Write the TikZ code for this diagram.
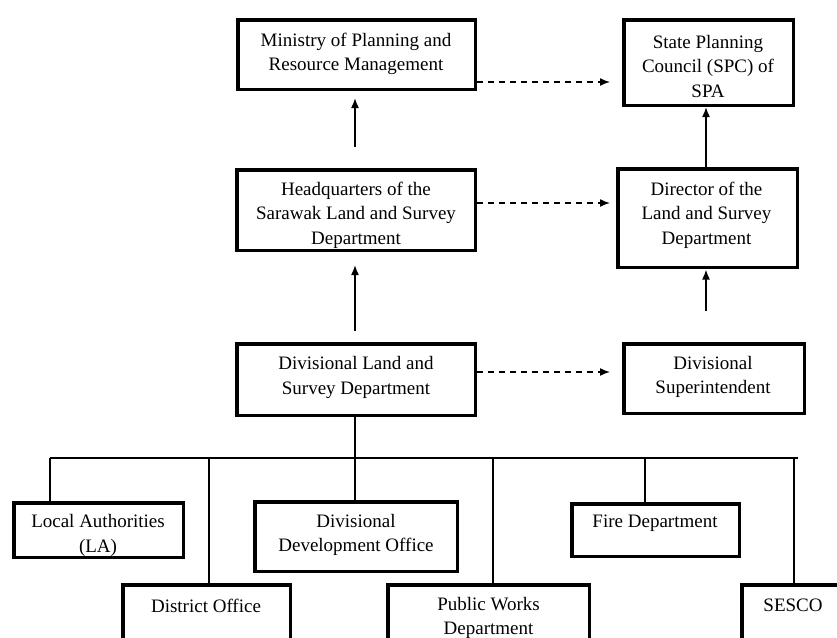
\documentclass[tikz,border=0pt]{standalone}
\usepackage{fontspec}
\setmainfont{Liberation Serif}
\usetikzlibrary{arrows.meta,calc}
\begin{document}
\begin{tikzpicture}[x=1pt,y=-1pt,
  box/.style={draw, line width=3.5pt, inner sep=0pt},
  lbl/.style={align=center, font=\fontsize{19}{24.5}\selectfont, inner sep=0pt, yshift=-1.5pt},
  arr/.style={line width=1.6pt, -{Latex[length=10pt,width=8pt]}},
  dasharr/.style={line width=1.5pt, dash pattern=on 6pt off 5pt, -{Latex[length=10pt,width=8pt]}},
  bus/.style={line width=1.2pt}]
\useasboundingbox (0,0) rectangle (837,637);
\fill[white] (0,0) rectangle (837,637);
\clip (0,0) rectangle (837,637);

% boxes
\node[box, minimum width=237.5pt, minimum height=69.5pt] (min) at (356.5,54.5) {};
\node[box, minimum width=169.5pt, minimum height=85.5pt] (spc) at (708.5,62.5) {};
\node[box, minimum width=238.5pt, minimum height=80.5pt] (hq) at (356,210) {};
\node[box, minimum width=179.5pt, minimum height=98.5pt] (dir) at (707.5,218) {};
\node[box, minimum width=238.5pt, minimum height=71.5pt] (dld) at (356,379.5) {};
\node[box, minimum width=180.5pt, minimum height=69.5pt] (dsup) at (714,378.5) {};
\node[box, minimum width=169.5pt, minimum height=54.5pt] (la) at (98.5,530) {};
\node[box, minimum width=202.5pt, minimum height=69.5pt] (ddo) at (356,536.5) {};
\node[box, minimum width=167.5pt, minimum height=52.5pt] (fire) at (655.5,530) {};
\node[box, minimum width=167.5pt, minimum height=100pt] (dof) at (206.5,634.75) {};
\node[box, minimum width=201.5pt, minimum height=100pt] (pwd) at (488.5,634.75) {};
\node[box, minimum width=196.5pt, minimum height=100pt] (sesco) at (840,634.75) {};

% texts
\node[lbl] (minT) at (356,52.5) {Ministry of Planning and\\Resource Management};
\node[lbl] (spcT) at (708,64.5) {State Planning\\Council (SPC) of\\SPA};
\node[lbl] (hqT) at (356,213.5) {Headquarters of the\\Sarawak Land and Survey\\Department};
\node[lbl] (dirT) at (706.5,213.5) {Director of the\\Land and Survey\\Department};
\node[lbl] (dldT) at (356,376) {Divisional Land and\\Survey Department};
\node[lbl] (dsupT) at (713,375.5) {Divisional\\Superintendent};
\node[lbl] (laT) at (98,534) {Local Authorities\\(LA)};
\node[lbl] (ddoT) at (356,533.5) {Divisional\\Development Office};
\node[lbl] (fireT) at (655,522) {Fire Department};
\node[lbl] (dofT) at (206,604) {District Office};
\node[lbl] (pwdT) at (488.5,616.5) {Public Works\\Department};
\node[lbl] (sescoT) at (793,604) {SESCO};

% helper coordinates
\coordinate (ax) at (355,0);
\coordinate (bx) at (706,0);
\coordinate (yA) at (0,82);
\coordinate (yB) at (0,203);
\coordinate (yC) at (0,372);

% vertical arrows
\draw[arr, shorten <=11pt, shorten >=13pt] (dld.north -| ax) -- (hq.south -| ax);
\draw[arr, shorten <=21pt, shorten >=7pt] (hq.north -| ax) -- (min.south -| ax);
\draw[arr, shorten <=31pt, shorten >=0.5pt] (dsup.north -| bx) -- (dir.south -| bx);
\draw[arr] (dir.north -| bx) -- (spc.south -| bx);

% dashed arrows
\draw[dasharr, shorten >=12pt] (min.east |- yA) -- (spc.west |- yA);
\draw[dasharr, shorten >=6pt] (hq.east |- yB) -- (dir.west |- yB);
\draw[dasharr, shorten >=12pt] (dld.east |- yC) -- (dsup.west |- yC);

% bus
\coordinate (j1) at (50,458);
\coordinate (j2) at (209,458);
\coordinate (j3) at (355,458);
\coordinate (j4) at (493,458);
\coordinate (j5) at (645,458);
\coordinate (j6) at (794,458);
\coordinate (jR) at (798,458);
\draw[bus] (j1) -- (jR);
\draw[bus] (dld.south -| j3) -- (j3);
\draw[bus] (j1) -- (j1 |- la.north);
\draw[bus] (j2) -- (j2 |- dof.north);
\draw[bus] (j3) -- (j3 |- ddo.north);
\draw[bus] (j4) -- (j4 |- pwd.north);
\draw[bus] (j5) -- (j5 |- fire.north);
\draw[bus] (j6) -- (j6 |- sesco.north);
\end{tikzpicture}
\end{document}
